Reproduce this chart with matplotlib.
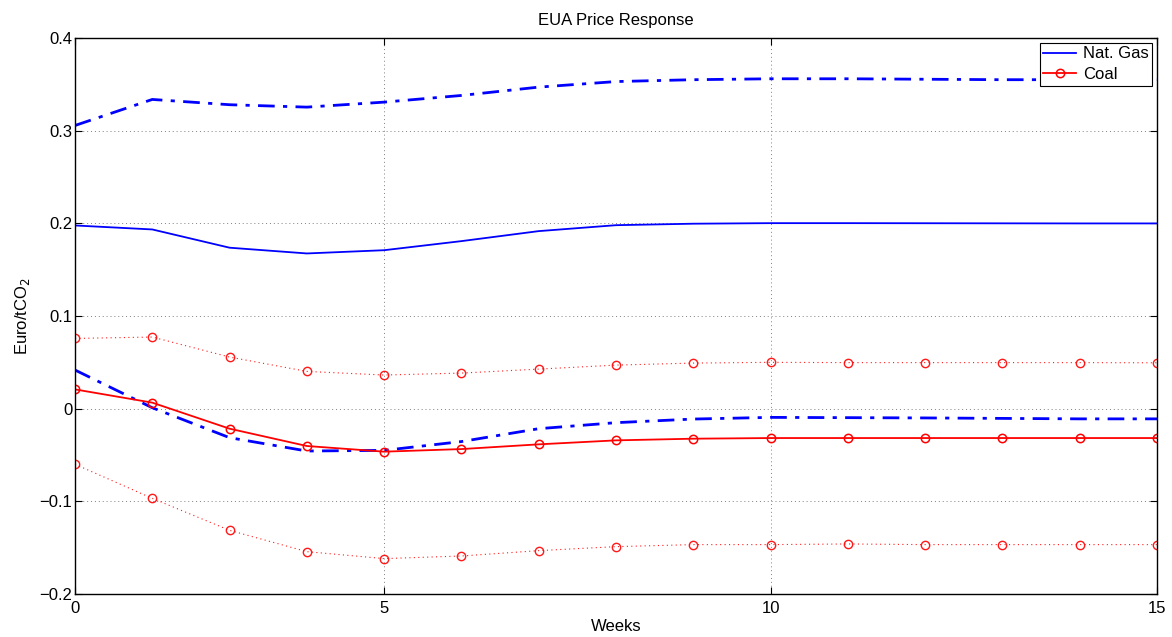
import matplotlib
matplotlib.use("Agg")
import matplotlib.pyplot as plt
import numpy as np

plt.rcParams['font.family'] = ['Liberation Sans', 'DejaVu Sans']

weeks = list(range(1, 16))
xtick_pos = [1, 5, 10, 15]
xtick_labels = ['0', '5', '10', '15']

gas_mid = [0.1977, 0.1934, 0.1737, 0.1675, 0.1710, 0.1808, 0.1916, 0.1980, 0.1996,
           0.2002, 0.2002, 0.2001, 0.2000, 0.1999, 0.1999]
gas_up = [0.3056, 0.3337, 0.3280, 0.3254, 0.3308, 0.3380, 0.3470, 0.3530, 0.3550,
          0.3560, 0.3560, 0.3555, 0.3550, 0.3550, 0.3550]
gas_lo = [0.0417, 0.0010, -0.0313, -0.0457, -0.0450, -0.0355, -0.0216, -0.0151, -0.0112,
          -0.0094, -0.0097, -0.0100, -0.0105, -0.0110, -0.0110]

coal_mid = [0.0208, 0.0065, -0.0216, -0.0403, -0.0464, -0.0436, -0.0385, -0.0342, -0.0324,
            -0.0317, -0.0317, -0.0317, -0.0317, -0.0317, -0.0317]
coal_up = [0.0758, 0.0773, 0.0557, 0.0402, 0.0363, 0.0384, 0.0427, 0.0470, 0.0492,
           0.0500, 0.0497, 0.0497, 0.0497, 0.0497, 0.0495]
coal_lo = [-0.0600, -0.0968, -0.1313, -0.1543, -0.1618, -0.1590, -0.1532, -0.1489, -0.1467,
           -0.1467, -0.1460, -0.1467, -0.1467, -0.1467, -0.1467]

fs = 12

fig = plt.figure(figsize=(11.72, 6.37), dpi=100)
ax = fig.add_axes([75/1172, 1 - 594/637, (1157-75)/1172, (594-38)/637])

ax.plot(weeks, gas_mid, color='blue', lw=1.3, label='Nat. Gas')
ax.plot(weeks, gas_up, color='blue', lw=2.0, linestyle=(0, (6, 3, 1.5, 3)))
ax.plot(weeks, gas_lo, color='blue', lw=2.0, linestyle=(0, (6, 3, 1.5, 3)))

ax.plot(weeks, coal_mid, color='red', lw=1.3, marker='o', ms=6, mfc='none', mew=1.1, label='Coal')
ax.plot(weeks, coal_up, color='red', lw=0.8, linestyle=(0, (1, 3)), alpha=0.9,
        marker='o', ms=6, mfc='none', mew=1.0)
ax.plot(weeks, coal_lo, color='red', lw=0.8, linestyle=(0, (1, 3)), alpha=0.9,
        marker='o', ms=6, mfc='none', mew=1.0)

ax.set_xlim(1, 15)
ax.set_ylim(-0.2, 0.4)
ax.set_xticks(xtick_pos)
ax.set_xticklabels(xtick_labels)
ax.set_yticks(np.arange(-0.2, 0.41, 0.1))
ax.set_yticklabels(['\u22120.2', '\u22120.1', '0', '0.1', '0.2', '0.3', '0.4'])
ax.tick_params(direction='in', top=True, right=True, length=5, labelsize=fs, width=0.8)
ax.tick_params(axis='y', pad=2)
ax.tick_params(axis='x', pad=5)
ax.grid(True, color='#808080', linestyle=(0, (1, 3)), linewidth=0.7)
for s in ax.spines.values():
    s.set_linewidth(1.0)

ax.set_title('EUA Price Response', fontsize=fs, pad=9)
ax.set_xlabel('Weeks', fontsize=fs, labelpad=2)
ax.set_ylabel('Euro/tCO$_2$', fontsize=fs, labelpad=5)

leg = ax.legend(loc='upper right', fontsize=fs, fancybox=False, framealpha=1,
                edgecolor='black', borderaxespad=0.3, handlelength=2.0,
                borderpad=0.2, labelspacing=0.35, handletextpad=0.4)
leg.get_frame().set_linewidth(0.8)

fig.savefig('out.png', dpi=100)
